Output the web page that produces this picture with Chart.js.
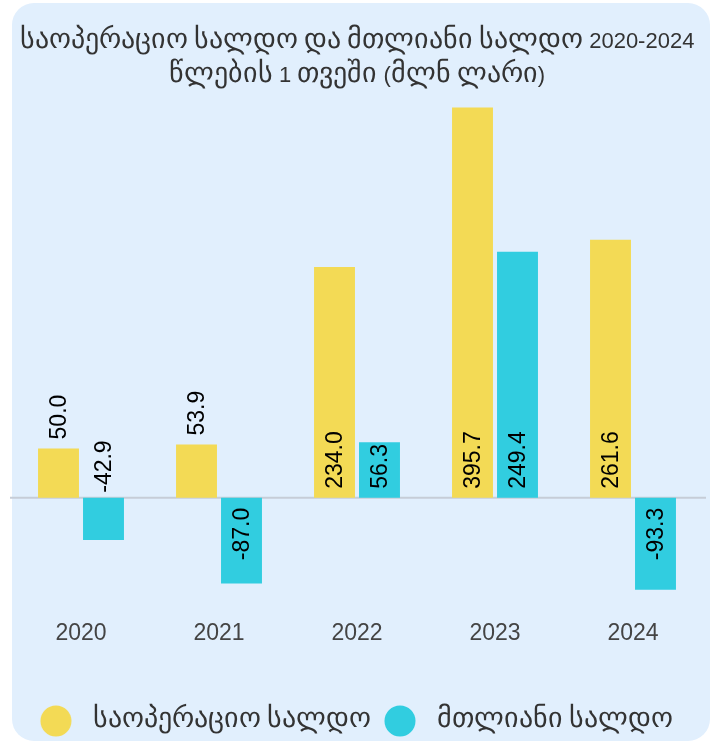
<!DOCTYPE html>
<html>
<head>
<meta charset="utf-8">
<script src="https://cdn.jsdelivr.net/npm/chart.js@4"></script>
<style>
  /* Georgian glyphs come from DejaVu Sans, scaled up a bit to match the reference */
  @font-face {
    font-family: "KaScaled";
    src: local("DejaVu Sans");
    unicode-range: U+10A0-10FF, U+1C90-1CBF;
    size-adjust: 128%;
  }
  html, body { margin: 0; padding: 0; background: #ffffff; }
  .card {
    position: absolute;
    left: 12px; top: 3px;
    width: 698px; height: 738px;
    background: #e1effd;
    border-radius: 22px;
  }
  .wrap { position: absolute; left: 0; top: 0; width: 711px; height: 742px; }
</style>
</head>
<body>
<div class="card"></div>
<div class="wrap"><canvas id="chart" width="711" height="742"></canvas></div>
<script>
const years = ["2020", "2021", "2022", "2023", "2024"];
const operatingBalance = [50.0, 53.9, 234.0, 395.7, 261.6];
const totalBalance = [-42.9, -87.0, 56.3, 249.4, -93.3];
const seriesNames = ["საოპერაციო სალდო", "მთლიანი სალდო"];
const titleLines = ["საოპერაციო სალდო და მთლიანი სალდო 2020-2024", "წლების 1 თვეში (მლნ ლარი)"];

const YELLOW = "#f3da55";
const CYAN = "#31cde0";
const FONT = '"Liberation Sans", "KaScaled", "DejaVu Sans", sans-serif';

// legend dot with a bit of empty room on the right, so text sits further away
function makeDot(color) {
  const c = document.createElement("canvas");
  c.width = 43;
  c.height = 32;
  const g = c.getContext("2d");
  g.fillStyle = color;
  g.beginPath();
  g.arc(16, 16, 15.5, 0, Math.PI * 2);
  g.fill();
  return c;
}

const zeroLine = {
  id: "zeroLine",
  beforeDatasetsDraw(chart) {
    const y = chart.scales.y.getPixelForValue(0);
    const ctx = chart.ctx;
    ctx.save();
    ctx.strokeStyle = "#c6cdd7";
    ctx.lineWidth = 2;
    ctx.beginPath();
    ctx.moveTo(10, y);
    ctx.lineTo(706, y);
    ctx.stroke();
    ctx.restore();
  }
};

const valueLabels = {
  id: "valueLabels",
  afterDatasetsDraw(chart) {
    const ctx = chart.ctx;
    ctx.save();
    ctx.font = "23px " + FONT;
    ctx.fillStyle = "#000";
    ctx.textBaseline = "middle";
    chart.data.datasets.forEach((ds, i) => {
      const meta = chart.getDatasetMeta(i);
      meta.data.forEach((bar, j) => {
        const v = ds.data[j];
        const text = v.toFixed(1);
        const w = ctx.measureText(text).width;
        const len = Math.abs(bar.base - bar.y);
        const fits = len >= w + 10;
        let y, align;
        if (v >= 0) {
          y = fits ? bar.base - 9 : bar.y - 9;
          align = "left";
        } else if (fits) {
          y = bar.base + 10;
          align = "right";
        } else {
          y = bar.base - 5;
          align = "left";
        }
        ctx.save();
        ctx.translate(bar.x, y);
        ctx.rotate(-Math.PI / 2);
        ctx.textAlign = align;
        ctx.fillText(text, 0, 1);
        ctx.restore();
      });
    });
    ctx.restore();
  }
};

const dots = [makeDot(YELLOW), makeDot(CYAN)];

function draw() {
  new Chart(document.getElementById("chart"), {
    type: "bar",
    data: {
      labels: years,
      datasets: [
        {
          label: seriesNames[0],
          data: operatingBalance,
          backgroundColor: YELLOW,
          categoryPercentage: 0.652,
          barPercentage: 0.91
        },
        {
          label: seriesNames[1],
          data: totalBalance,
          backgroundColor: CYAN,
          categoryPercentage: 0.652,
          barPercentage: 0.91
        }
      ]
    },
    options: {
      responsive: false,
      animation: false,
      layout: { padding: { left: 12, right: 9, top: 6, bottom: 0 } },
      plugins: {
        title: {
          display: true,
          text: titleLines,
          color: "#333",
          font: { family: FONT, size: 22, weight: "normal", lineHeight: 1.55 },
          padding: { top: 19, bottom: 10 }
        },
        legend: {
          position: "bottom",
          labels: {
            color: "#333",
            font: { family: FONT, size: 22 },
            usePointStyle: true,
            boxWidth: 22,
            boxHeight: 22,
            pointStyleWidth: 41,
            padding: 14,
            generateLabels(chart) {
              const items = Chart.defaults.plugins.legend.labels.generateLabels(chart);
              items.forEach(it => { it.pointStyle = dots[it.datasetIndex]; });
              return items;
            }
          }
        },
        tooltip: { enabled: false }
      },
      scales: {
        x: {
          grid: { display: false, drawTicks: false },
          border: { display: false },
          ticks: { color: "#444", font: { family: FONT, size: 23 }, padding: 23 },
          afterFit(scale) { scale.height += 26; }
        },
        y: {
          display: false,
          min: -100,
          max: 400
        }
      }
    },
    plugins: [zeroLine, valueLabels]
  });
}

Promise.all([
  document.fonts.load('22px "KaScaled"', "ს"),
  document.fonts.load('22px "Liberation Sans"', "2")
]).then(draw, draw);
</script>
</body>
</html>
